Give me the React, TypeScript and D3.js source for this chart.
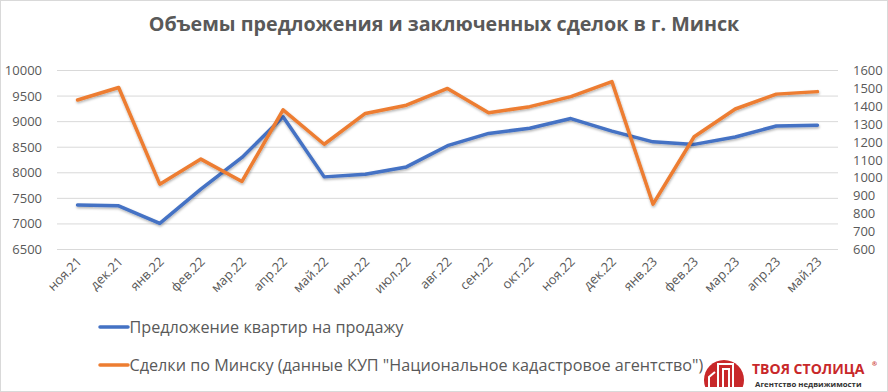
import React, { useEffect, useRef } from 'react';
import * as d3 from 'd3';

const months = ['ноя.21', 'дек.21', 'янв.22', 'фев.22', 'мар.22', 'апр.22', 'май.22', 'июн.22', 'июл.22', 'авг.22',
  'сен.22', 'окт.22', 'ноя.22', 'дек.22', 'янв.23', 'фев.23', 'мар.23', 'апр.23', 'май.23'];

// предложение (левая ось)
const offers = [7370, 7355, 7010, 7680, 8300, 9095, 7920, 7970, 8115, 8530, 8770, 8870, 9060, 8815, 8605, 8555, 8700, 8915, 8930];
// сделки (правая ось)
const deals = [1435, 1505, 965, 1105, 980, 1380, 1188, 1360, 1406, 1500, 1364, 1398, 1454, 1538, 853, 1230, 1385, 1468, 1482];

const leftTicks = [6500, 7000, 7500, 8000, 8500, 9000, 9500, 10000];
const rightTicks = [600, 700, 800, 900, 1000, 1100, 1200, 1300, 1400, 1500, 1600];

const legendItems = [
  { label: 'Предложение квартир на продажу', color: '#4472C4' },
  { label: 'Сделки по Минску (данные КУП "Национальное кадастровое агентство")', color: '#ED7D31' },
];

const App = () => {
  const svgRef = useRef(null);

  useEffect(() => {
    const svg = d3.select(svgRef.current);
    svg.selectAll('*').remove();

    const width = 888;
    const height = 392;
    const margin = { top: 70.5, right: 50, bottom: 142.5, left: 57 };
    const font = '"Open Sans", sans-serif';
    const grey = '#595959';

    svg.attr('width', width).attr('height', height);

    svg.append('rect')
      .attr('x', 0.5).attr('y', 0.5)
      .attr('width', width - 1).attr('height', height - 1)
      .attr('fill', 'white')
      .attr('stroke', '#d9d9d9');

    svg.append('text')
      .attr('x', 444)
      .attr('y', 31)
      .attr('text-anchor', 'middle')
      .style('font-family', font)
      .style('font-weight', 'bold')
      .style('font-size', '19.7px')
      .style('fill', grey)
      .text('Объемы предложения и заключенных сделок в г. Минск');

    const x = d3.scaleBand()
      .domain(months)
      .range([margin.left, width - margin.right]);

    const yLeft = d3.scaleLinear()
      .domain([6500, 10000])
      .range([height - margin.bottom, margin.top]);

    const yRight = d3.scaleLinear()
      .domain([600, 1600])
      .range([height - margin.bottom, margin.top]);

    // сетка
    svg.append('g')
      .selectAll('line')
      .data(leftTicks)
      .enter()
      .append('line')
      .attr('x1', margin.left)
      .attr('x2', width - margin.right)
      .attr('y1', d => yLeft(d))
      .attr('y2', d => yLeft(d))
      .attr('stroke', '#d9d9d9')
      .attr('stroke-width', 1);

    svg.append('g')
      .selectAll('text')
      .data(leftTicks)
      .enter()
      .append('text')
      .attr('x', 42)
      .attr('y', d => yLeft(d) + 4.5)
      .attr('text-anchor', 'end')
      .style('font-family', font)
      .style('font-size', '13px')
      .style('fill', grey)
      .text(d => d);

    svg.append('g')
      .selectAll('text')
      .data(rightTicks)
      .enter()
      .append('text')
      .attr('x', 853)
      .attr('y', d => yRight(d) + 4.5)
      .attr('text-anchor', 'start')
      .style('font-family', font)
      .style('font-size', '13px')
      .style('fill', grey)
      .text(d => d);

    svg.append('g')
      .selectAll('text')
      .data(months)
      .enter()
      .append('text')
      .attr('transform', d => `translate(${x(d) + x.bandwidth() / 2 + 5},${height - margin.bottom + 13}) rotate(-45)`)
      .attr('text-anchor', 'end')
      .style('font-family', font)
      .style('font-size', '13px')
      .style('fill', grey)
      .text(d => d);

    const defs = svg.append('defs');
    defs.append('filter')
      .attr('id', 'shadow')
      .attr('x', '-5%').attr('y', '-5%').attr('width', '110%').attr('height', '120%')
      .append('feDropShadow')
      .attr('dx', 0.5).attr('dy', 1.5).attr('stdDeviation', 1)
      .attr('flood-color', '#000').attr('flood-opacity', 0.3);

    const cx = d => x(d) + x.bandwidth() / 2;

    const lineLeft = d3.line()
      .x((d, i) => cx(months[i]))
      .y(d => yLeft(d));

    const lineRight = d3.line()
      .x((d, i) => cx(months[i]))
      .y(d => yRight(d));

    svg.append('path')
      .datum(offers)
      .attr('d', lineLeft)
      .attr('fill', 'none')
      .attr('stroke', '#4472C4')
      .attr('stroke-width', 3.5)
      .attr('stroke-linejoin', 'round')
      .attr('stroke-linecap', 'round')
      .attr('filter', 'url(#shadow)');

    svg.append('path')
      .datum(deals)
      .attr('d', lineRight)
      .attr('fill', 'none')
      .attr('stroke', '#ED7D31')
      .attr('stroke-width', 3.5)
      .attr('stroke-linejoin', 'round')
      .attr('stroke-linecap', 'round')
      .attr('filter', 'url(#shadow)');

    // легенда
    const legend = svg.append('g')
      .selectAll('g')
      .data(legendItems)
      .enter()
      .append('g')
      .attr('transform', (d, i) => `translate(100,${327 + i * 38})`);

    legend.append('line')
      .attr('x1', 0).attr('x2', 28)
      .attr('stroke', d => d.color)
      .attr('stroke-width', 3.5)
      .attr('stroke-linecap', 'round');

    legend.append('text')
      .attr('x', 29.5)
      .attr('y', 6)
      .style('font-family', font)
      .style('font-size', '16.2px')
      .style('fill', grey)
      .text(d => d.label);

    // логотип
    const logo = svg.append('g');
    logo.append('clipPath')
      .attr('id', 'logoClip')
      .append('rect')
      .attr('x', 690).attr('y', 340).attr('width', 70).attr('height', 47);
    logo.append('rect')
      .attr('x', 703).attr('y', 358).attr('width', 44).attr('height', 30)
      .attr('fill', 'white');
    logo.append('circle')
      .attr('cx', 724).attr('cy', 380).attr('r', 20)
      .attr('fill', '#c8282a')
      .attr('clip-path', 'url(#logoClip)');
    const bx = logo.append('g').attr('fill', 'none').attr('stroke', 'white').attr('stroke-width', 2);
    bx.append('path').attr('d', 'M718,387 V364 H733 V387');
    bx.append('path').attr('d', 'M723,387 V369 H729 V387');
    bx.append('path').attr('d', 'M709,387 V377 L715,372');
    logo.append('text')
      .attr('x', 752).attr('y', 374)
      .style('font-family', font)
      .style('font-weight', 'bold')
      .style('font-size', '14px')
      .style('fill', '#c8282a')
      .text('ТВОЯ СТОЛИЦА');
    logo.append('text')
      .attr('x', 872).attr('y', 366)
      .style('font-family', font)
      .style('font-weight', 'bold')
      .style('font-size', '6px')
      .style('fill', '#c8282a')
      .text('®');
    logo.append('text')
      .attr('x', 755).attr('y', 387)
      .style('font-family', font)
      .style('font-weight', 'bold')
      .style('font-size', '7.8px')
      .style('fill', '#333')
      .text('Агентство недвижимости');
  }, []);

  return (
    <svg ref={svgRef} style={{ position: 'absolute', left: 0, top: 0, display: 'block' }}></svg>
  );
};

export default App;
